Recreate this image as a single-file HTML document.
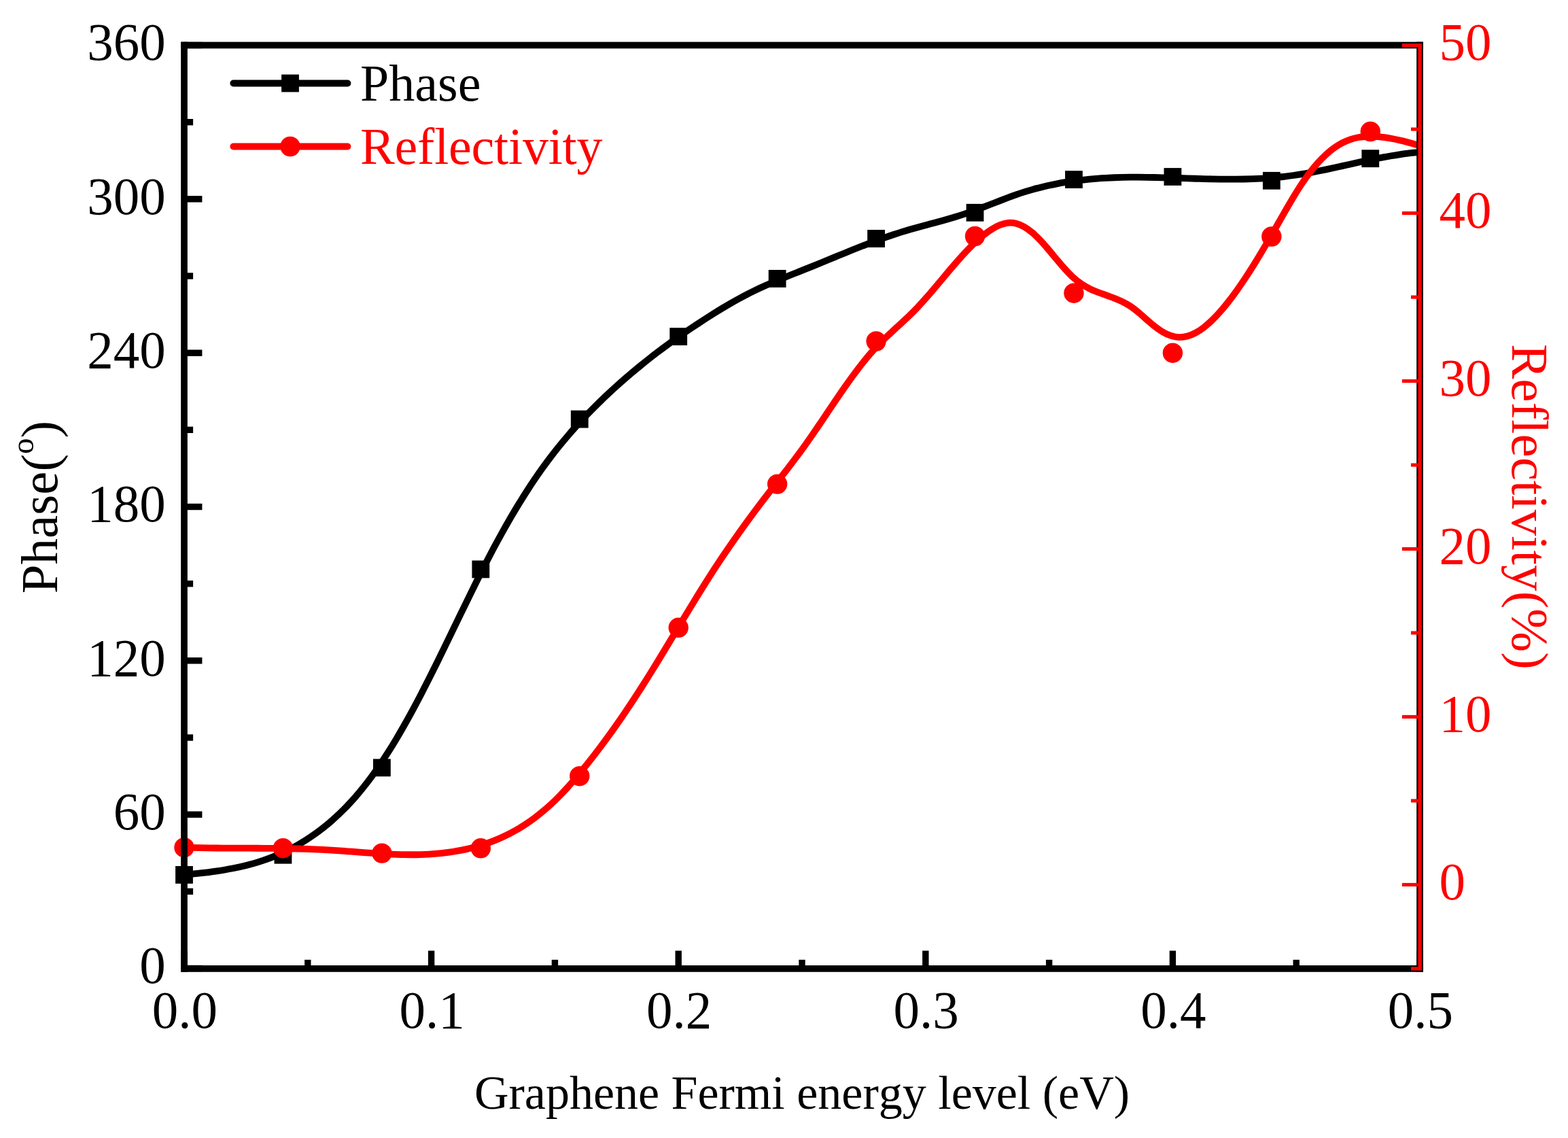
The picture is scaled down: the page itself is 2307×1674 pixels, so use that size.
<!DOCTYPE html>
<html lang="en"><head><meta charset="utf-8"><title>Phase and Reflectivity vs Graphene Fermi energy level</title>
<style>
html,body{margin:0;padding:0;background:#fff;}
body{width:2307px;height:1674px;overflow:hidden;}
svg{display:block;}
text{font-family:"Liberation Serif","Times New Roman",Times,serif;font-kerning:none;font-variant-ligatures:none;}
.k{fill:#000;}.r{fill:#f00;}
</style></head><body>
<svg width="2307" height="1674" viewBox="0 0 2307 1674">
<rect width="2307" height="1674" fill="#fff"/>
<defs><clipPath id="pc"><rect x="271" y="66.5" width="1818" height="1358.4"/></clipPath></defs>
<g clip-path="url(#pc)" fill="none" stroke-linejoin="round" stroke-linecap="butt">
<path d="M271 1286.88C273 1286.69 279 1286.13 283 1285.73C287 1285.33 291 1284.92 295 1284.47C299 1284.02 303 1283.56 307 1283.05C311 1282.54 315 1282 319 1281.41C323 1280.82 327 1280.2 331 1279.52C335 1278.83 339 1278.1 343 1277.31C347 1276.51 351 1275.66 355 1274.74C359 1273.81 363 1272.83 367 1271.75C371 1270.68 375 1269.54 379 1268.31C383 1267.07 387 1265.76 391 1264.35C395 1262.94 399 1261.44 403 1259.83C407 1258.22 411 1256.52 415 1254.7C419 1252.87 423 1250.95 427 1248.9C431 1246.85 435 1244.69 439 1242.39C443 1240.09 447 1237.68 451 1235.12C455 1232.56 459 1229.87 463 1227.03C467 1224.19 471 1221.22 475 1218.08C479 1214.93 483 1211.65 487 1208.18C491 1204.72 495 1201.1 499 1197.28C503 1193.47 507 1189.49 511 1185.3C515 1181.11 519 1176.74 523 1172.16C527 1167.57 531 1162.79 535 1157.78C539 1152.78 543 1147.56 547 1142.11C551 1136.66 555 1130.97 559 1125.07C563 1119.17 567 1113.04 571 1106.72C575 1100.41 579 1093.87 583 1087.17C587 1080.46 591 1073.55 595 1066.49C599 1059.43 603 1052.19 607 1044.8C611 1037.42 615 1029.86 619 1022.19C623 1014.52 627 1006.68 631 998.77C635 990.85 639 982.8 643 974.7C647 966.61 651 958.41 655 950.2C659 941.99 663 933.71 667 925.46C671 917.2 675 908.91 679 900.67C683 892.44 687 884.19 691 876.04C695 867.89 699 859.77 703 851.77C707 843.78 711 835.84 715 828.06C719 820.28 723 812.6 727 805.1C731 797.6 735 790.24 739 783.06C743 775.87 747 768.84 751 761.97C755 755.11 759 748.4 763 741.86C767 735.32 771 728.94 775 722.73C779 716.51 783 710.46 787 704.58C791 698.7 795 693 799 687.45C803 681.89 807 676.52 811 671.28C815 666.04 819 660.96 823 656.01C827 651.06 831 646.26 835 641.57C839 636.88 843 632.33 847 627.88C851 623.43 855 619.11 859 614.88C863 610.64 867 606.52 871 602.47C875 598.43 879 594.49 883 590.61C887 586.73 891 582.94 895 579.2C899 575.46 903 571.8 907 568.19C911 564.59 915 561.05 919 557.56C923 554.08 927 550.66 931 547.29C935 543.93 939 540.62 943 537.37C947 534.11 951 530.91 955 527.77C959 524.62 963 521.52 967 518.47C971 515.42 975 512.43 979 509.47C983 506.52 987 503.61 991 500.75C995 497.88 999 495.06 1003 492.28C1007 489.5 1011 486.76 1015 484.05C1019 481.35 1023 478.68 1027 476.05C1031 473.41 1035 470.82 1039 468.25C1043 465.68 1047 463.14 1051 460.65C1055 458.16 1059 455.69 1063 453.28C1067 450.87 1071 448.5 1075 446.19C1079 443.88 1083 441.62 1087 439.43C1091 437.24 1095 435.1 1099 433.04C1103 430.98 1107 429 1111 427.07C1115 425.14 1119 423.28 1123 421.47C1127 419.65 1131 417.9 1135 416.18C1139 414.45 1143 412.78 1147 411.12C1151 409.46 1155 407.84 1159 406.23C1163 404.62 1167 403.03 1171 401.43C1175 399.84 1179 398.26 1183 396.66C1187 395.06 1191 393.46 1195 391.85C1199 390.23 1203 388.6 1207 386.96C1211 385.32 1215 383.68 1219 382.03C1223 380.39 1227 378.74 1231 377.09C1235 375.45 1239 373.81 1243 372.18C1247 370.55 1251 368.93 1255 367.32C1259 365.72 1263 364.12 1267 362.55C1271 360.98 1275 359.42 1279 357.9C1283 356.37 1287 354.87 1291 353.4C1295 351.93 1299 350.49 1303 349.09C1307 347.68 1311 346.31 1315 344.99C1319 343.66 1323 342.38 1327 341.14C1331 339.9 1335 338.72 1339 337.56C1343 336.4 1347 335.29 1351 334.18C1355 333.08 1359 332.01 1363 330.93C1367 329.85 1371 328.79 1375 327.71C1379 326.63 1383 325.55 1387 324.44C1391 323.33 1395 322.21 1399 321.04C1403 319.86 1407 318.67 1411 317.41C1415 316.15 1419 314.85 1423 313.48C1427 312.11 1431 310.67 1435 309.2C1439 307.73 1443 306.2 1447 304.67C1451 303.14 1455 301.56 1459 300.01C1463 298.45 1467 296.87 1471 295.33C1475 293.79 1479 292.25 1483 290.77C1487 289.28 1491 287.82 1495 286.43C1499 285.04 1503 283.7 1507 282.44C1511 281.17 1515 279.98 1519 278.85C1523 277.72 1527 276.65 1531 275.65C1535 274.64 1539 273.7 1543 272.81C1547 271.93 1551 271.1 1555 270.33C1559 269.56 1563 268.85 1567 268.18C1571 267.52 1575 266.91 1579 266.35C1583 265.79 1587 265.28 1591 264.81C1595 264.34 1599 263.93 1603 263.55C1607 263.17 1611 262.84 1615 262.55C1619 262.25 1623 262 1627 261.78C1631 261.57 1635 261.39 1639 261.24C1643 261.09 1647 260.98 1651 260.89C1655 260.8 1659 260.75 1663 260.72C1667 260.68 1671 260.68 1675 260.69C1679 260.7 1683 260.74 1687 260.79C1691 260.84 1695 260.91 1699 260.99C1703 261.07 1707 261.17 1711 261.28C1715 261.38 1719 261.5 1723 261.62C1727 261.74 1731 261.87 1735 261.99C1739 262.12 1743 262.25 1747 262.38C1751 262.51 1755 262.64 1759 262.76C1763 262.87 1767 262.99 1771 263.1C1775 263.2 1779 263.3 1783 263.38C1787 263.46 1791 263.53 1795 263.58C1799 263.64 1803 263.67 1807 263.68C1811 263.7 1815 263.69 1819 263.66C1823 263.63 1827 263.57 1831 263.48C1835 263.4 1839 263.28 1843 263.14C1847 262.99 1851 262.81 1855 262.59C1859 262.38 1863 262.13 1867 261.83C1871 261.54 1875 261.21 1879 260.83C1883 260.45 1887 260.04 1891 259.57C1895 259.1 1899 258.58 1903 258.01C1907 257.45 1911 256.83 1915 256.17C1919 255.52 1923 254.81 1927 254.08C1931 253.35 1935 252.58 1939 251.79C1943 250.99 1947 250.17 1951 249.33C1955 248.49 1959 247.63 1963 246.76C1967 245.89 1971 245 1975 244.12C1979 243.23 1983 242.33 1987 241.45C1991 240.56 1995 239.67 1999 238.79C2003 237.92 2007 237.05 2011 236.2C2015 235.35 2019 234.52 2023 233.71C2027 232.91 2031 232.12 2035 231.37C2039 230.63 2043 229.9 2047 229.23C2051 228.55 2055 227.91 2059 227.32C2063 226.73 2067 226.19 2071 225.7C2075 225.21 2079 224.77 2083 224.4C2087 224.03 2092.83 223.64 2095 223.48C2097.17 223.31 2095.83 223.43 2096 223.42" stroke="#000" stroke-width="9.8"/>
</g>
<g fill="#000">
<rect x="258.1" y="1274" width="25.8" height="25.8"/>
<rect x="403.54" y="1244.8" width="25.8" height="25.8"/>
<rect x="548.98" y="1116.4" width="25.8" height="25.8"/>
<rect x="694.42" y="824.5" width="25.8" height="25.8"/>
<rect x="839.86" y="603.7" width="25.8" height="25.8"/>
<rect x="985.3" y="482.2" width="25.8" height="25.8"/>
<rect x="1130.74" y="397" width="25.8" height="25.8"/>
<rect x="1276.18" y="338.1" width="25.8" height="25.8"/>
<rect x="1421.62" y="299.9" width="25.8" height="25.8"/>
<rect x="1567.06" y="251.2" width="25.8" height="25.8"/>
<rect x="1712.5" y="247.1" width="25.8" height="25.8"/>
<rect x="1857.94" y="252.9" width="25.8" height="25.8"/>
<rect x="2003.38" y="220.3" width="25.8" height="25.8"/>
</g>
<g clip-path="url(#pc)" fill="none" stroke-linejoin="round" stroke-linecap="butt">
<path d="M271 1246.49C273 1246.55 279 1246.75 283 1246.86C287 1246.97 291 1247.06 295 1247.15C299 1247.23 303 1247.29 307 1247.35C311 1247.41 315 1247.46 319 1247.5C323 1247.54 327 1247.56 331 1247.59C335 1247.62 339 1247.63 343 1247.65C347 1247.67 351 1247.68 355 1247.69C359 1247.7 363 1247.71 367 1247.72C371 1247.73 375 1247.74 379 1247.76C383 1247.77 387 1247.79 391 1247.81C395 1247.84 399 1247.87 403 1247.9C407 1247.94 411 1247.98 415 1248.04C419 1248.09 423 1248.16 427 1248.23C431 1248.31 435 1248.4 439 1248.5C443 1248.61 447 1248.73 451 1248.86C455 1249 459 1249.15 463 1249.32C467 1249.49 471 1249.68 475 1249.89C479 1250.1 483 1250.34 487 1250.59C491 1250.84 495 1251.12 499 1251.4C503 1251.68 507 1251.98 511 1252.27C515 1252.57 519 1252.88 523 1253.18C527 1253.49 531 1253.79 535 1254.09C539 1254.38 543 1254.67 547 1254.95C551 1255.22 555 1255.49 559 1255.73C563 1255.97 567 1256.19 571 1256.39C575 1256.58 579 1256.75 583 1256.89C587 1257.02 591 1257.13 595 1257.19C599 1257.26 603 1257.29 607 1257.26C611 1257.24 615 1257.18 619 1257.06C623 1256.95 627 1256.78 631 1256.55C635 1256.33 639 1256.05 643 1255.7C647 1255.35 651 1254.94 655 1254.45C659 1253.97 663 1253.42 667 1252.78C671 1252.15 675 1251.45 679 1250.65C683 1249.86 687 1248.99 691 1248.02C695 1247.06 699 1246.01 703 1244.85C707 1243.7 711 1242.45 715 1241.09C719 1239.73 723 1238.26 727 1236.67C731 1235.09 735 1233.39 739 1231.55C743 1229.72 747 1227.77 751 1225.67C755 1223.57 759 1221.35 763 1218.97C767 1216.58 771 1214.06 775 1211.38C779 1208.7 783 1205.87 787 1202.86C791 1199.85 795 1196.69 799 1193.35C803 1190 807 1186.49 811 1182.78C815 1179.08 819 1175.18 823 1171.11C827 1167.04 831 1162.76 835 1158.36C839 1153.95 843 1149.36 847 1144.67C851 1139.98 855 1135.13 859 1130.2C863 1125.27 867 1120.22 871 1115.09C875 1109.96 879 1104.74 883 1099.41C887 1094.09 891 1088.67 895 1083.16C899 1077.65 903 1072.04 907 1066.34C911 1060.64 915 1054.85 919 1048.96C923 1043.07 927 1037.09 931 1031.02C935 1024.95 939 1018.77 943 1012.52C947 1006.27 951 999.91 955 993.5C959 987.09 963 980.59 967 974.06C971 967.53 975 960.94 979 954.34C983 947.74 987 941.09 991 934.46C995 927.83 999 921.17 1003 914.55C1007 907.93 1011 901.31 1015 894.74C1019 888.18 1023 881.63 1027 875.16C1031 868.69 1035 862.26 1039 855.93C1043 849.59 1047 843.33 1051 837.17C1055 831.02 1059 824.96 1063 819C1067 813.04 1071 807.18 1075 801.4C1079 795.62 1083 789.93 1087 784.31C1091 778.69 1095 773.15 1099 767.67C1103 762.2 1107 756.8 1111 751.45C1115 746.09 1119 740.81 1123 735.57C1127 730.33 1131 725.15 1135 719.99C1139 714.83 1143 709.75 1147 704.61C1151 699.48 1155 694.38 1159 689.18C1163 683.98 1167 678.78 1171 673.43C1175 668.08 1179 662.66 1183 657.08C1187 651.51 1191 645.78 1195 640.01C1199 634.23 1203 628.31 1207 622.41C1211 616.51 1215 610.52 1219 604.58C1223 598.65 1227 592.68 1231 586.81C1235 580.95 1239 575.09 1243 569.38C1247 563.68 1251 558.03 1255 552.58C1259 547.13 1263 541.78 1267 536.68C1271 531.58 1275 526.64 1279 521.99C1283 517.33 1287 512.94 1291 508.75C1295 504.55 1299 500.66 1303 496.8C1307 492.95 1311 489.31 1315 485.61C1319 481.92 1323 478.35 1327 474.63C1331 470.91 1335 467.22 1339 463.29C1343 459.37 1347 455.32 1351 451.07C1355 446.82 1359 442.34 1363 437.81C1367 433.27 1371 428.55 1375 423.84C1379 419.13 1383 414.3 1387 409.54C1391 404.78 1395 399.97 1399 395.28C1403 390.59 1407 385.91 1411 381.41C1415 376.92 1419 372.5 1423 368.32C1427 364.15 1431 360.1 1435 356.36C1439 352.63 1443 349.08 1447 345.91C1451 342.74 1455 339.81 1459 337.33C1463 334.85 1467 332.62 1471 331.03C1475 329.45 1479 328.22 1483 327.84C1487 327.45 1491 327.73 1495 328.71C1499 329.7 1503 331.47 1507 333.75C1511 336.02 1515 338.99 1519 342.35C1523 345.71 1527 349.72 1531 353.92C1535 358.11 1539 362.86 1543 367.53C1547 372.2 1551 377.22 1555 381.96C1559 386.69 1563 391.55 1567 395.92C1571 400.29 1575 404.55 1579 408.17C1583 411.78 1587 414.89 1591 417.62C1595 420.34 1599 422.51 1603 424.53C1607 426.56 1611 428.16 1615 429.75C1619 431.35 1623 432.66 1627 434.11C1631 435.56 1635 436.87 1639 438.45C1643 440.03 1647 441.61 1651 443.6C1655 445.59 1659 447.75 1663 450.4C1667 453.05 1671 456.24 1675 459.5C1679 462.77 1683 466.54 1687 469.99C1691 473.43 1695 477.09 1699 480.17C1703 483.24 1707 486.15 1711 488.44C1715 490.74 1719 492.67 1723 493.95C1727 495.22 1731 496 1735 496.1C1739 496.21 1743 495.64 1747 494.57C1751 493.5 1755 491.79 1759 489.66C1763 487.53 1767 484.84 1771 481.8C1775 478.76 1779 475.23 1783 471.41C1787 467.59 1791 463.35 1795 458.85C1799 454.35 1803 449.49 1807 444.4C1811 439.32 1815 433.91 1819 428.33C1823 422.74 1827 416.89 1831 410.88C1835 404.87 1839 398.63 1843 392.27C1847 385.91 1851 379.35 1855 372.7C1859 366.05 1863 359.24 1867 352.38C1871 345.51 1875 338.49 1879 331.49C1883 324.5 1887 317.35 1891 310.42C1895 303.5 1899 296.53 1903 289.94C1907 283.34 1911 276.86 1915 270.86C1919 264.87 1923 259.2 1927 253.96C1931 248.73 1935 243.9 1939 239.46C1943 235.02 1947 230.98 1951 227.33C1955 223.69 1959 220.43 1963 217.57C1967 214.71 1971 212.24 1975 210.15C1979 208.06 1983 206.4 1987 205.04C1991 203.69 1995 202.75 1999 202.04C2003 201.32 2007 200.96 2011 200.76C2015 200.56 2019 200.65 2023 200.85C2027 201.04 2031 201.44 2035 201.92C2039 202.4 2043 203.02 2047 203.73C2051 204.44 2055 205.27 2059 206.18C2063 207.08 2067 208.1 2071 209.18C2075 210.26 2079 211.43 2083 212.65C2087 213.87 2092.83 215.82 2095 216.52C2097.17 217.22 2095.83 216.8 2096 216.85" stroke="#f00" stroke-width="9.8"/>
</g>
<g fill="#f00">
<circle cx="271" cy="1246.7" r="14.7"/>
<circle cx="416.44" cy="1247.7" r="14.7"/>
<circle cx="561.88" cy="1255.1" r="14.7"/>
<circle cx="707.32" cy="1247.8" r="14.7"/>
<circle cx="852.76" cy="1141.7" r="14.7"/>
<circle cx="998.2" cy="923.3" r="14.7"/>
<circle cx="1143.64" cy="712.1" r="14.7"/>
<circle cx="1289.08" cy="502" r="14.7"/>
<circle cx="1434.52" cy="347.5" r="14.7"/>
<circle cx="1579.96" cy="431.2" r="14.7"/>
<circle cx="1725.4" cy="519.2" r="14.7"/>
<circle cx="1870.84" cy="348" r="14.7"/>
<circle cx="2016.28" cy="193.5" r="14.7"/>
</g>
<g fill="#000">
<rect x="266.15" y="61.65" width="1827.7" height="9.7"/>
<rect x="266.15" y="1420.05" width="1827.7" height="9.7"/>
<rect x="266.15" y="61.65" width="9.7" height="1368.1"/>
<rect x="2084.15" y="61.65" width="9.7" height="1368.1"/>
<rect x="271" y="1419.8" width="26.4" height="9.4"/>
<rect x="271" y="1306.63" width="13.1" height="9.4"/>
<rect x="271" y="1193.47" width="26.4" height="9.4"/>
<rect x="271" y="1080.3" width="13.1" height="9.4"/>
<rect x="271" y="967.13" width="26.4" height="9.4"/>
<rect x="271" y="853.97" width="13.1" height="9.4"/>
<rect x="271" y="740.8" width="26.4" height="9.4"/>
<rect x="271" y="627.63" width="13.1" height="9.4"/>
<rect x="271" y="514.47" width="26.4" height="9.4"/>
<rect x="271" y="401.3" width="13.1" height="9.4"/>
<rect x="271" y="288.13" width="26.4" height="9.4"/>
<rect x="271" y="174.97" width="13.1" height="9.4"/>
<rect x="271" y="61.8" width="26.4" height="9.4"/>
<rect x="266.3" y="1398.5" width="9.4" height="26.4"/>
<rect x="448.1" y="1411.8" width="9.4" height="13.1"/>
<rect x="629.9" y="1398.5" width="9.4" height="26.4"/>
<rect x="811.7" y="1411.8" width="9.4" height="13.1"/>
<rect x="993.5" y="1398.5" width="9.4" height="26.4"/>
<rect x="1175.3" y="1411.8" width="9.4" height="13.1"/>
<rect x="1357.1" y="1398.5" width="9.4" height="26.4"/>
<rect x="1538.9" y="1411.8" width="9.4" height="13.1"/>
<rect x="1720.7" y="1398.5" width="9.4" height="26.4"/>
<rect x="1902.5" y="1411.8" width="9.4" height="13.1"/>
<rect x="2084.3" y="1398.5" width="9.4" height="26.4"/>
</g>
<g fill="#f00">
<rect x="2086.45" y="64.05" width="5.4" height="1363.38"/>
<rect x="2075.95" y="1422.33" width="13.2" height="5.1"/>
<rect x="2062.85" y="1298.85" width="26.3" height="5.1"/>
<rect x="2075.95" y="1175.37" width="13.2" height="5.1"/>
<rect x="2062.85" y="1051.89" width="26.3" height="5.1"/>
<rect x="2075.95" y="928.41" width="13.2" height="5.1"/>
<rect x="2062.85" y="804.93" width="26.3" height="5.1"/>
<rect x="2075.95" y="681.45" width="13.2" height="5.1"/>
<rect x="2062.85" y="557.97" width="26.3" height="5.1"/>
<rect x="2075.95" y="434.49" width="13.2" height="5.1"/>
<rect x="2062.85" y="311.01" width="26.3" height="5.1"/>
<rect x="2075.95" y="187.53" width="13.2" height="5.1"/>
<rect x="2062.85" y="64.05" width="26.3" height="5.1"/>
</g>
<g class="k" font-size="77" text-anchor="end">
<text transform="translate(243.7 1446.2) scale(1 1.029)">0</text>
<text transform="translate(243.7 1219.87) scale(1 1.029)">60</text>
<text transform="translate(243.7 993.53) scale(1 1.029)">120</text>
<text transform="translate(243.7 767.2) scale(1 1.029)">180</text>
<text transform="translate(243.7 540.87) scale(1 1.029)">240</text>
<text transform="translate(243.7 314.53) scale(1 1.029)">300</text>
<text transform="translate(243.7 88.2) scale(1 1.029)">360</text>
</g>
<g class="r" font-size="77" text-anchor="start">
<text transform="translate(2117.5 1323.1) scale(1 1.029)">0</text>
<text transform="translate(2117.5 1076.14) scale(1 1.029)">10</text>
<text transform="translate(2117.5 829.18) scale(1 1.029)">20</text>
<text transform="translate(2117.5 582.22) scale(1 1.029)">30</text>
<text transform="translate(2117.5 335.26) scale(1 1.029)">40</text>
<text transform="translate(2117.5 88.3) scale(1 1.029)">50</text>
</g>
<g class="k" font-size="77" text-anchor="middle">
<text transform="translate(271.9 1511.6) scale(1 1.029)">0.0</text>
<text transform="translate(635.5 1511.6) scale(1 1.029)">0.1</text>
<text transform="translate(999.1 1511.6) scale(1 1.029)">0.2</text>
<text transform="translate(1362.7 1511.6) scale(1 1.029)">0.3</text>
<text transform="translate(1726.3 1511.6) scale(1 1.029)">0.4</text>
<text transform="translate(2089.9 1511.6) scale(1 1.029)">0.5</text>
</g>
<text class="k" font-size="70" text-anchor="middle" x="1180" y="1631.3">Graphene Fermi energy level (eV)</text>
<text class="k" font-size="77" text-anchor="middle" transform="translate(84 746) rotate(-90)">Phase(<tspan font-size="47" dy="-35">o</tspan><tspan dy="35">)</tspan></text>
<text class="r" font-size="77" text-anchor="middle" transform="translate(2224.5 745.4) rotate(90)">Reflectivity(%)</text>
<g stroke-linecap="round" stroke-width="9.8">
<line x1="343.3" y1="122.5" x2="511.5" y2="122.5" stroke="#000"/>
<line x1="343.3" y1="215.5" x2="511.5" y2="215.5" stroke="#f00"/>
</g>
<rect class="k" x="414.1" y="109.6" width="25.8" height="25.8"/>
<circle class="r" cx="427" cy="215.5" r="14.7"/>
<text class="k" font-size="76" x="530.1" y="147.8">Phase</text>
<text class="r" font-size="76" letter-spacing="-0.22" x="530.1" y="241.2">Reflectivity</text>
</svg></body></html>
